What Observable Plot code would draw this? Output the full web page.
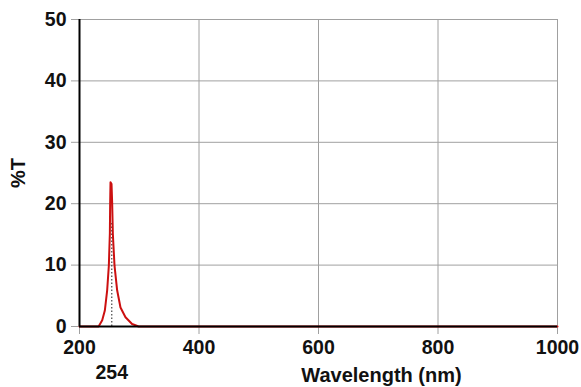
<!DOCTYPE html>
<html>
<head>
<meta charset="utf-8">
<script src="https://cdn.jsdelivr.net/npm/d3@7"></script>
<script src="https://cdn.jsdelivr.net/npm/@observablehq/plot@0.6"></script>
<style>
  html, body { margin: 0; padding: 0; background: white; }
</style>
</head>
<body>
<div id="chart"></div>
<script>
const wavelength = [200, 225, 232, 238, 242.4, 246.3, 249.1, 250.8, 251.3, 251.9, 253.6, 254.7, 255.8, 258.6, 263, 268.6, 277, 288, 299, 400, 600, 800, 1000];
const transmission = [0, 0, 0, 1.0, 2.6, 5.9, 9.9, 15.1, 20.0, 23.5, 23.2, 20.0, 15.1, 9.9, 5.9, 3.1, 1.5, 0.4, 0, 0, 0, 0, 0];
const xTicks = [200, 400, 600, 800, 1000];
const yTicks = [0, 10, 20, 30, 40, 50];
const peakWavelength = [254];
const peakValue = 23.5;
const xLabel = "Wavelength (nm)";
const yLabel = "%T";

const data = wavelength.map((w, i) => ({w, t: transmission[i]}));

const chart = Plot.plot({
  width: 581,
  height: 387,
  marginLeft: 79,
  marginRight: 24,
  marginTop: 19,
  marginBottom: 61,
  style: {fontFamily: "'Liberation Sans', Arial, sans-serif", fontWeight: "bold", fontSize: "19.5px", color: "#111", background: "white", overflow: "visible"},
  x: {domain: [200, 1000]},
  y: {domain: [0, 50]},
  marks: [
    Plot.gridX(xTicks, {stroke: "#a0a0a0", strokeOpacity: 1, strokeWidth: 1}),
    Plot.gridY(yTicks, {stroke: "#a0a0a0", strokeOpacity: 1, strokeWidth: 1}),
    Plot.axisX(xTicks, {tickSize: 8, tickPadding: 6, stroke: "#a0a0a0", fill: "#111", label: null, tickFormat: d => String(d), fontWeight: "bold", fontSize: 19.5}),
    Plot.axisY(yTicks, {tickSize: 8, tickPadding: 5, stroke: "#a0a0a0", fill: "#111", label: null, tickFormat: d => String(d), fontWeight: "bold", fontSize: 19.5}),
    Plot.ruleX(peakWavelength, {y1: 0, y2: peakValue, stroke: "#444", strokeWidth: 1.2, strokeDasharray: "1.5,2", insetBottom: -40}),
    Plot.line(data, {x: "w", y: "t", stroke: "#cc1010", strokeWidth: 2}),
    Plot.ruleX([200], {stroke: "black", strokeWidth: 2}),
    Plot.ruleY([0], {stroke: "black", strokeWidth: 2}),
    Plot.text(peakWavelength, {x: d => d, y: 0, text: d => String(d), dy: 46, fill: "#111", fontWeight: "bold", fontSize: 19.5}),
    Plot.text([xLabel], {frameAnchor: "bottom", textAnchor: "middle", dx: 63, dy: 55, fill: "#111", fontWeight: "bold", fontSize: 20}),
    Plot.text([yLabel], {frameAnchor: "left", textAnchor: "middle", dx: -61, rotate: -90, fill: "#111", fontWeight: "bold", fontSize: 20})
  ]
});
document.getElementById("chart").appendChild(chart);
</script>
</body>
</html>
